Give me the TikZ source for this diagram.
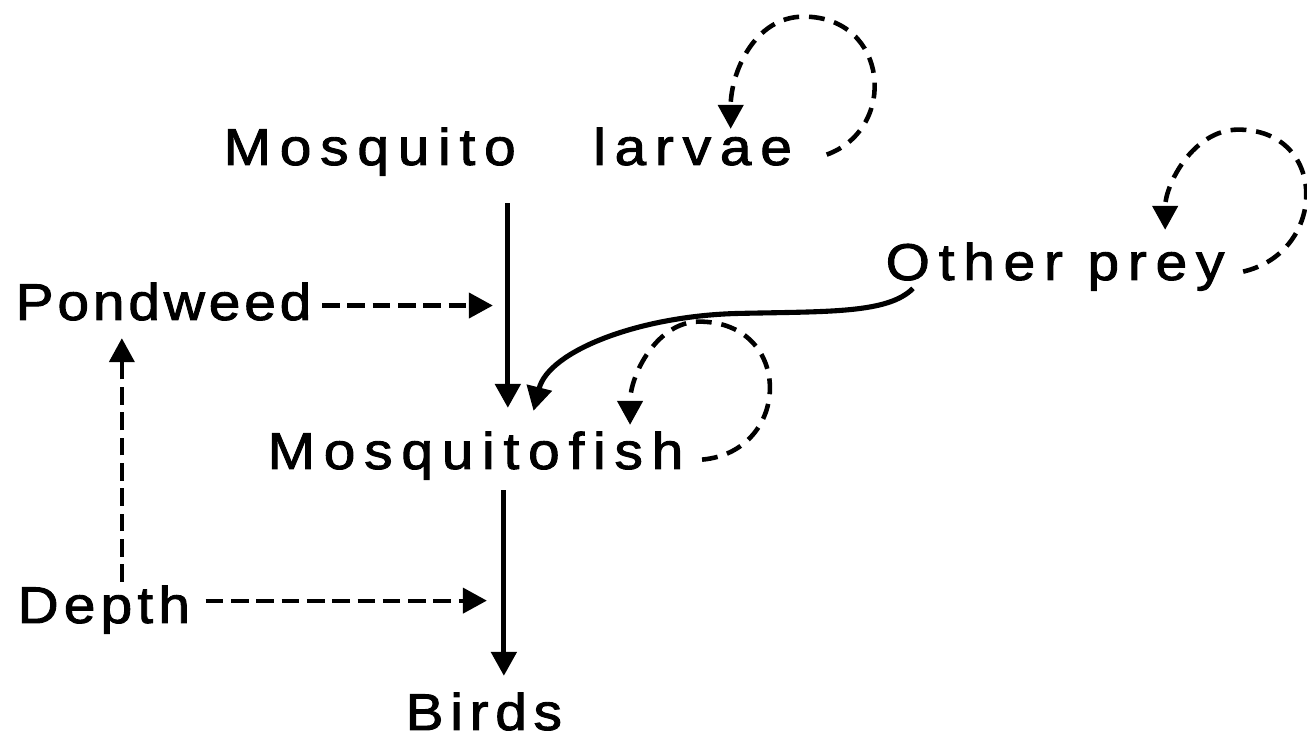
\documentclass[tikz,border=0pt]{standalone}
\usepackage{fontspec}
\newfontfamily\labelfont[LetterSpace=17,FakeStretch=1.1,FakeBold=1.8]{Liberation Sans}
\usetikzlibrary{arrows.meta}

\begin{document}
\begin{tikzpicture}[
      >={Triangle[length=2.4mm,width=2.5mm]},
      word/.style={inner sep=0pt, anchor=base west,
                   font=\labelfont\fontsize{14.7}{17}\selectfont},
      feeds/.style={->, line width=1.45pt},
      effect/.style={->, line width=1.2pt, dash pattern=on 5pt off 2.2pt},
      selfloop/.style={->, line width=1.3pt, dash pattern=on 4.5pt off 2.8pt},
    ]
    \useasboundingbox (0,0) rectangle (13.07,7.37);

    % species and factors
    \node[word] (larvae) at (2.23,5.72) {Mosquito\hspace{1.5em}larvae};
    \node[word] (other) at (8.85,4.57) {Other prey};
    \node[word] (pond) at (0.15,4.17) {\addfontfeature{LetterSpace=7.5}Pondweed};
    \node[word] (fish) at (2.67,2.68) {Mosquitofish};
    \node[word] (depth) at (0.17,1.14) {\addfontfeature{LetterSpace=10}Depth};
    \node[word] (birds) at (4.05,0.07) {\addfontfeature{LetterSpace=13}Birds};

    % food chain (solid)
    \draw[feeds] ([yshift=-2.7mm]larvae.south)
      -- ([yshift=2.3mm]larvae.south |- fish.north);
    \draw[feeds] ([xshift=2mm,yshift=-1mm]birds.north |- fish.south)
      -- ([xshift=2mm,yshift=1.6mm]birds.north);
    \draw[feeds] ([xshift=2.8mm,yshift=0.3mm]other.south west)
      .. controls +(-0.25,-0.25) and +(0.9,0.02) .. ++(-1.73,-0.25)
      .. controls +(-1.0,-0.02) and +(0.15,0.6) .. ([xshift=5.8mm,yshift=2mm]fish.north);

    % habitat effects (dashed)
    \draw[effect] ([xshift=1mm,yshift=-0.4mm]pond.east)
      -- ([xshift=-1.5mm,yshift=-0.4mm]pond.east -| larvae.south);
    \draw[effect] ([xshift=1.5mm,yshift=0.9mm]depth.east)
      -- ([xshift=0.3mm,yshift=0.9mm]depth.east -| birds.north);
    \draw[effect] ([xshift=1.8mm,yshift=0.3mm]depth.north)
      -- ([xshift=1.8mm,yshift=-1.7mm]depth.north |- pond.south);

    % density dependence
    \draw[selfloop] ([xshift=3.4mm,yshift=-0.3mm]larvae.east)
      .. controls +(0.72,0.26) and +(0.85,0) .. ++(-0.23,1.38)
      .. controls +(-0.5,0) and +(0,0.55) .. ([xshift=-6.2mm,yshift=-0.2mm]larvae.north east);
    \draw[selfloop] ([xshift=1.8mm,yshift=-0.5mm]other.east)
      .. controls +(0.85,0.2) and +(0.9,0) .. ++(-0.05,1.42)
      .. controls +(-0.45,0) and +(0,0.45) .. ([xshift=-6.0mm,yshift=1.2mm]other.north east);
    \draw[selfloop] ([xshift=1.8mm,yshift=-0.4mm]fish.east)
      .. controls +(0.9,0.08) and +(0.95,0) .. ++(-0.03,1.38)
      .. controls +(-0.42,0) and +(0,0.5) .. ([xshift=-5.4mm,yshift=0.6mm]fish.north east);
  \end{tikzpicture}
\end{document}
